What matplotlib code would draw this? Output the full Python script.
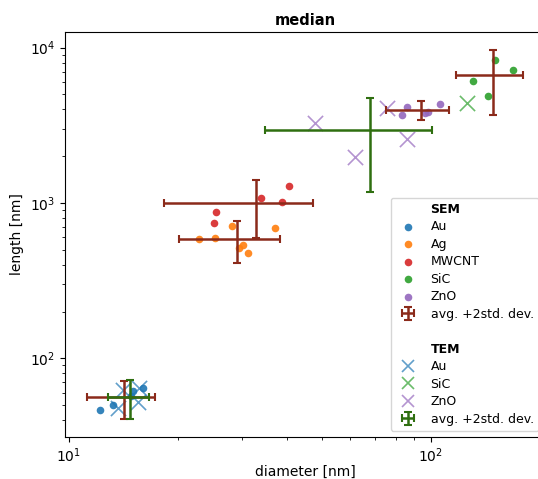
import numpy as np
import matplotlib
matplotlib.use("Agg")
import matplotlib.pyplot as plt
from matplotlib.lines import Line2D

# SEM measurements (diameter, length) in nm
sem_au_d = [12.2, 13.2, 14.8, 15.0, 16.0]
sem_au_l = [46.5, 50.1, 57.2, 61.5, 64.3]
sem_ag_d = [22.9, 25.3, 28.2, 37.1, 30.2, 29.6, 31.3]
sem_ag_l = [585, 596, 711, 690, 535, 514, 474]
sem_mwcnt_d = [25.5, 25.2, 34.0, 38.9, 40.7]
sem_mwcnt_l = [873, 747, 1080, 1012, 1281]
sem_sic_d = [150.8, 169.0, 131.3, 143.7]
sem_sic_l = [8346, 7202, 6091, 4885]
sem_zno_d = [86.1, 83.1, 96.3, 98.3, 105.9]
sem_zno_l = [4155, 3677, 3804, 3860, 4368]

# TEM measurements
tem_au_d = [13.7, 14.1, 15.6, 15.5]
tem_au_l = [47.9, 62.4, 64.3, 52.3]
tem_sic_d = [125.8]
tem_sic_l = [4407]
tem_zno_d = [48.0, 75.9, 85.8, 61.8]
tem_zno_l = [3254, 4058, 2583, 1973]

sem_sets = [("Au", sem_au_d, sem_au_l, "tab:blue"),
            ("Ag", sem_ag_d, sem_ag_l, "tab:orange"),
            ("MWCNT", sem_mwcnt_d, sem_mwcnt_l, "tab:red"),
            ("SiC", sem_sic_d, sem_sic_l, "tab:green"),
            ("ZnO", sem_zno_d, sem_zno_l, "tab:purple")]
tem_sets = [("Au", tem_au_d, tem_au_l, "tab:blue"),
            ("SiC", tem_sic_d, tem_sic_l, "tab:green"),
            ("ZnO", tem_zno_d, tem_zno_l, "tab:purple")]

sem_err_color = "#8b2a1a"
tem_err_color = "#2f6f10"

fig = plt.figure(figsize=(5.38, 4.79), dpi=100)
ax = fig.add_axes([0.1208, 0.0877, 0.892, 0.8455])

handles = [Line2D([], [], linestyle="none", label="SEM")]
for name, d, l, c in sem_sets:
    h = ax.scatter(d, l, s=30, color=c, alpha=0.9, linewidths=0, label=name, zorder=2)
    handles.append(h)

for name, d, l, c in tem_sets:
    ax.scatter(d, l, s=120, marker="x", color=c, alpha=0.7, linewidths=1.2, zorder=2)

# average +- 2 std. dev.
sem_eb = None
for name, d, l, c in sem_sets:
    d = np.array(d); l = np.array(l)
    sem_eb = ax.errorbar(d.mean(), l.mean(), xerr=2 * d.std(ddof=1), yerr=2 * l.std(ddof=1),
                         fmt="none", ecolor=sem_err_color, elinewidth=1.8, capsize=3,
                         capthick=1.5, zorder=3)
tem_eb = None
for name, d, l, c in tem_sets:
    if len(d) < 2:
        continue
    d = np.array(d); l = np.array(l)
    tem_eb = ax.errorbar(d.mean(), l.mean(), xerr=2 * d.std(ddof=1), yerr=2 * l.std(ddof=1),
                         fmt="none", ecolor=tem_err_color, elinewidth=1.8, capsize=3,
                         capthick=1.5, zorder=3)

ax.set_xscale("log")
ax.set_yscale("log")

handles.append(sem_eb)
labels = ["SEM"] + [s[0] for s in sem_sets] + ["avg. +2std. dev."]
handles.append(Line2D([], [], linestyle="none"))
labels.append(" ")
handles.append(Line2D([], [], linestyle="none"))
labels.append("TEM")
for name, d, l, c in tem_sets:
    handles.append(Line2D([], [], linestyle="none", marker="x", markersize=8,
                          color=c, alpha=0.7, markeredgewidth=1.2))
    labels.append(name)
handles.append(tem_eb)
labels.append("avg. +2std. dev.")

leg = ax.legend(handles, labels, loc="lower right", fontsize=9, labelspacing=0.36)
for t in leg.get_texts():
    if t.get_text() in ("SEM", "TEM"):
        t.set_fontweight("bold")

ax.set_title("median", fontweight="bold", fontsize=10.5, pad=5)
ax.set_xlabel("diameter [nm]", labelpad=0)
ax.set_ylabel("length [nm]")

fig.savefig("out.png", dpi=100)
